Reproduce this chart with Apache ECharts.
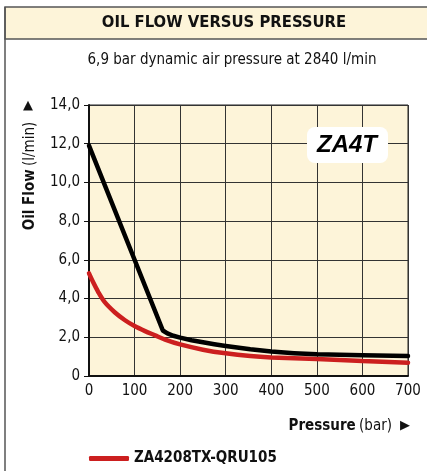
<!DOCTYPE html>
<html><head><meta charset="utf-8">
<script src="https://cdn.jsdelivr.net/npm/echarts@6/dist/echarts.min.js"></script>
<style>html,body{margin:0;padding:0;background:#fff}#c{width:427px;height:471px}</style>
</head><body><div id="c"></div>
<script>
var title = 'OIL FLOW VERSUS PRESSURE';
var subtitle = '6,9 bar dynamic air pressure at 2840 l/min';
var badge = 'ZA4T';
var legendName = 'ZA4208TX-QRU105';
var xTicks = [0,100,200,300,400,500,600,700];
var yTicks = [0,2,4,6,8,10,12,14];
var blackX = [0,162,172,185,200,225,250,275,300,354,400,450,500,600,700];
var blackY = [11.9,2.35,2.2,2.08,1.98,1.85,1.74,1.64,1.55,1.38,1.26,1.18,1.12,1.07,1.03];
var redX = [0,10,20,35,57,79,100,123,145,167,200,250,300,354,400,500,600,700];
var redY = [5.3,4.8,4.35,3.8,3.28,2.88,2.58,2.32,2.1,1.88,1.63,1.36,1.17,1.03,0.96,0.88,0.78,0.69];

var FN = '"DejaVu Sans Condensed","Liberation Sans",sans-serif';
function pairs(xs, ys){ return xs.map(function(x,i){return [x, ys[i]];}); }
var chart = echarts.init(document.getElementById('c'));
chart.setOption({
  animation:false,
  backgroundColor:'#fff',
  grid:{left:89,right:19,top:105,bottom:95,show:true,backgroundColor:'#fdf4d9',borderColor:'#222',borderWidth:1},
  xAxis:{type:'value',min:xTicks[0],max:xTicks[xTicks.length-1],interval:100,
    axisLine:{show:true,onZero:false,lineStyle:{color:'#111',width:2}},
    axisTick:{show:false},
    splitLine:{show:true,lineStyle:{color:'#333',width:1}},
    axisLabel:{color:'#111',fontSize:15,fontFamily:FN,margin:8}},
  yAxis:{type:'value',min:yTicks[0],max:yTicks[yTicks.length-1],interval:2,
    axisLine:{show:true,lineStyle:{color:'#111',width:2}},
    axisTick:{show:true,length:5,inside:false,lineStyle:{color:'#111'}},
    splitLine:{show:true,lineStyle:{color:'#333',width:1}},
    axisLabel:{color:'#111',fontSize:15,fontFamily:FN,margin:9,
      formatter:function(v){return v===0?'0':v.toFixed(1).replace('.',',');}}},
  legend:{data:[legendName],left:84,top:446,icon:'roundRect',itemWidth:40,itemHeight:5,itemGap:10,
    textStyle:{color:'#111',fontSize:15,fontWeight:'bold',fontFamily:FN}},
  series:[
    {name:'ZA4T black',type:'line',data:pairs(blackX,blackY),showSymbol:false,smooth:false,
      lineStyle:{color:'#000',width:4.5,join:'round',cap:'round'},z:3},
    {name:legendName,type:'line',data:pairs(redX,redY),showSymbol:false,smooth:0.3,
      itemStyle:{color:'#cc1f1f'},lineStyle:{color:'#cc1f1f',width:4.5,cap:'round'},z:2}
  ],
  graphic:[
    {type:'rect',shape:{x:5,y:7,width:430,height:32},style:{fill:'#fdf4d9',stroke:'#555',lineWidth:1.5},z:-1},
    {type:'line',shape:{x1:5,y1:7,x2:5,y2:480},style:{stroke:'#555',lineWidth:1.5}},
    {type:'text',x:224,y:23,style:{text:title,align:'center',verticalAlign:'middle',fill:'#111',
      font:'bold 16.5px '+FN}},
    {type:'text',x:232,y:60,style:{text:subtitle,align:'center',verticalAlign:'middle',fill:'#111',
      font:'15px '+FN}},
    {type:'text',x:30,y:176,rotation:Math.PI/2,style:{text:'{b|Oil Flow} {n|(l/min)}',align:'center',verticalAlign:'middle',
      rich:{b:{font:'bold 15px '+FN,fill:'#111'},n:{font:'15px '+FN,fill:'#111'}}}},
    {type:'text',x:28,y:106,style:{text:'▲',align:'center',verticalAlign:'middle',fill:'#111',font:'13px "DejaVu Sans"'}},
    {type:'text',x:392,y:426,style:{text:'{b|Pressure} {n|(bar)}',align:'right',verticalAlign:'middle',
      rich:{b:{font:'bold 15px '+FN,fill:'#111'},n:{font:'15px '+FN,fill:'#111'}}}},
    {type:'text',x:405,y:426,style:{text:'▶',align:'center',verticalAlign:'middle',fill:'#111',font:'13px "DejaVu Sans"'}},
    {type:'rect',shape:{x:307,y:127,width:81,height:36,r:8},style:{fill:'#fff'},z:10},
    {type:'text',x:347,y:145,style:{text:badge,align:'center',verticalAlign:'middle',fill:'#000',
      font:'italic bold 24px "Liberation Sans",sans-serif'},z:11}
  ]
});
</script></body></html>
